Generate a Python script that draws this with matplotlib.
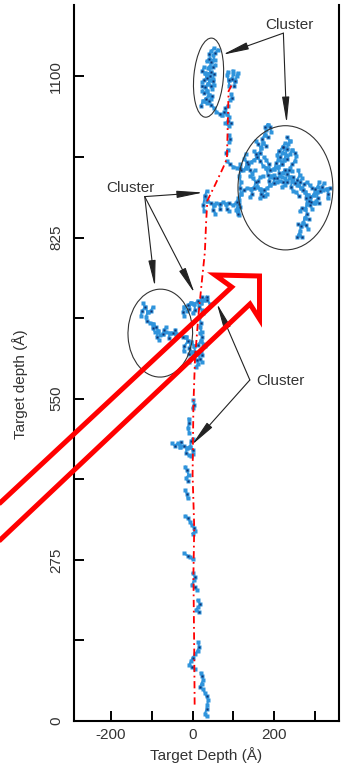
import numpy as np
import matplotlib.pyplot as plt
from matplotlib.patches import Ellipse, Polygon

plt.rcParams['font.family'] = ['Liberation Sans', 'DejaVu Sans']
plt.rcParams['axes.unicode_minus'] = False

# ion track (red dash-dot line)
track_x = [5, 4, 2, 4, 0, 2, 6, 14, 24, 30, 33, 36, 55, 75, 84, 86, 88, 96]
track_y = [28, 120, 250, 330, 420, 540, 620, 690, 760, 800, 850, 888, 915, 945, 960, 1020, 1075, 1086]

# recoil branches, (depth x, depth y)
top_cluster = [
    [(62, 1146), (55, 1140), (50, 1136), (54, 1128), (46, 1124), (42, 1117), (38, 1115), (44, 1108), (36, 1104),
     (30, 1106), (34, 1098), (42, 1094), (38, 1088), (30, 1082), (36, 1076), (40, 1068), (32, 1062), (26, 1058),
     (34, 1054), (46, 1052), (52, 1046), (58, 1040), (66, 1036), (72, 1034)],
    [(48, 1128), (40, 1130), (34, 1126)], [(44, 1108), (52, 1104), (50, 1096)], [(38, 1088), (46, 1084), (48, 1078)],
    [(36, 1076), (28, 1072), (24, 1076)], [(40, 1068), (48, 1066)], [(30, 1106), (24, 1110), (28, 1116)],
    [(26, 1058), (20, 1050)],
    [(42, 1117), (50, 1116), (56, 1120)], [(34, 1098), (28, 1094), (24, 1090)], [(42, 1094), (50, 1092), (52, 1086)],
    [(46, 1124), (40, 1138), (46, 1144), (52, 1148)], [(32, 1062), (40, 1058), (44, 1062)], [(30, 1082), (24, 1084)],
    [(36, 1104), (42, 1100)],
    [(72, 1034), (78, 1040), (84, 1036), (90, 1030), (86, 1024), (80, 1020), (88, 1016), (94, 1020)],
    [(84, 1036), (80, 1046), (86, 1050)],
    [(90, 1084), (88, 1094), (84, 1102), (86, 1108)], [(88, 1094), (96, 1096), (100, 1104), (98, 1110)],
    [(96, 1096), (104, 1092), (108, 1100), (110, 1106)], [(104, 1092), (102, 1084)],
    [(92, 1060), (96, 1064), (94, 1070)], [(88, 1000), (92, 994), (90, 988)], [(86, 975), (82, 970)],
]
big_cluster = [
    [(36, 888), (44, 884), (52, 880), (58, 884), (66, 882), (74, 885), (82, 882), (90, 884), (98, 880), (106, 884),
     (114, 882)],
    [(52, 880), (50, 872), (56, 866)], [(66, 882), (68, 874)], [(82, 882), (84, 874), (90, 870)],
    [(36, 888), (30, 896), (34, 904)], [(30, 896), (26, 880), (28, 870)],
    [(116, 950), (118, 940), (114, 930), (118, 920), (116, 910), (118, 900), (114, 890), (116, 878), (112, 870),
     (114, 864)],
    [(84, 955), (92, 950), (100, 946), (108, 944), (116, 944), (124, 940), (130, 944), (136, 950), (142, 954),
     (150, 958), (158, 962)],
    [(158, 962), (164, 970), (168, 978), (172, 986), (170, 994), (176, 1000), (180, 1008), (178, 1014), (184, 1018)],
    [(168, 978), (160, 984), (156, 990)], [(176, 1000), (184, 996)], [(172, 986), (180, 982)],
    [(158, 962), (166, 956), (172, 948), (180, 944), (190, 940), (200, 942), (210, 946), (218, 950), (224, 958),
     (228, 966), (230, 976), (234, 984), (238, 990)],
    [(224, 958), (232, 960), (238, 968), (244, 974)],
    [(244, 974), (250, 970), (254, 964), (250, 956), (244, 950), (238, 944)],
    [(238, 990), (230, 996)], [(230, 976), (222, 980)],
    [(226, 940), (232, 934), (238, 928), (244, 922), (250, 918), (258, 914), (264, 910), (270, 906), (276, 902),
     (282, 898), (288, 894), (296, 898), (304, 902), (312, 904), (320, 906), (328, 908), (336, 910)],
    [(312, 904), (316, 912), (322, 918)], [(328, 908), (332, 900), (330, 892)], [(264, 910), (262, 920), (268, 926)],
    [(250, 918), (246, 928)],
    [(276, 902), (278, 892), (280, 882), (276, 874), (280, 866), (274, 858), (270, 850), (266, 844), (262, 836),
     (260, 830), (256, 826)],
    [(280, 882), (288, 880), (292, 874)], [(274, 858), (284, 856)], [(266, 844), (258, 848)], [(260, 830), (268, 826)],
    [(118, 900), (126, 906), (134, 910), (142, 908), (150, 910), (158, 912), (166, 908), (174, 906), (182, 910),
     (190, 914), (198, 918), (206, 920), (214, 922), (222, 920), (230, 922)],
    [(142, 908), (146, 900), (140, 894)], [(166, 908), (168, 900), (176, 896), (182, 900)],
    [(198, 918), (200, 926), (194, 930)], [(150, 910), (154, 920), (148, 926), (140, 930)],
    [(112, 892), (108, 886), (110, 878), (106, 872), (110, 866)],
    [(180, 944), (184, 932), (192, 928), (200, 932), (206, 926), (214, 930), (220, 936), (226, 940)],
    [(200, 942), (204, 952), (210, 958), (206, 966), (212, 972)],
    [(190, 940), (186, 950), (180, 958), (174, 962)],
    [(244, 922), (240, 912), (246, 904), (254, 902), (260, 896)],
    [(288, 894), (290, 886), (296, 884), (302, 888), (308, 884)],
    [(130, 944), (132, 954), (126, 960), (130, 968)], [(136, 950), (140, 940), (146, 934), (152, 940)],
    [(208, 946), (212, 936), (218, 928), (226, 926)], [(218, 950), (214, 962), (220, 970), (226, 978)],
    [(256, 914), (256, 924), (262, 932), (258, 940)], [(270, 906), (272, 916), (280, 920), (286, 914), (292, 910)],
    [(296, 898), (300, 908), (306, 912), (310, 920)], [(304, 902), (306, 892), (300, 884)], [(282, 898), (284, 888)],
    [(276, 874), (268, 876), (262, 870)], [(270, 850), (278, 846), (282, 840)], [(190, 914), (186, 922), (190, 930)],
    [(174, 906), (172, 896), (164, 892)], [(158, 912), (160, 922), (166, 928), (172, 930)],
    [(232, 934), (236, 940), (242, 938)], [(238, 928), (232, 920), (226, 914), (218, 912)],
    [(184, 1018), (190, 1014), (192, 1006)], [(164, 970), (156, 968), (150, 972)],
    [(212, 972), (220, 980), (226, 986)],
]
mid_cluster = [
    [(-121, 713), (-116, 706), (-110, 698), (-114, 690), (-112, 682), (-104, 680), (-96, 678), (-90, 672), (-84, 666),
     (-80, 658), (-72, 660), (-64, 664), (-56, 662), (-48, 662), (-40, 660), (-32, 658), (-24, 656), (-16, 655)],
    [(-116, 706), (-124, 700), (-126, 692)], [(-110, 698), (-102, 700), (-98, 706)], [(-96, 678), (-98, 670), (-92, 664)],
    [(-84, 666), (-88, 656), (-82, 650)], [(-56, 662), (-58, 654)],
    [(-72, 660), (-70, 668), (-64, 672)], [(-40, 660), (-42, 668)],
    [(-20, 706), (-12, 710), (-4, 714), (4, 712), (12, 716), (20, 714), (28, 718), (36, 718), (42, 712)],
    [(-4, 714), (-8, 704), (-14, 700)], [(12, 716), (16, 706), (22, 702), (26, 696)], [(28, 718), (34, 724)],
    [(-20, 706), (-24, 698), (-20, 692)], [(4, 712), (6, 702), (0, 696)], [(20, 714), (22, 724)],
    [(-16, 656), (-12, 648), (-4, 646), (4, 640), (12, 642), (20, 648), (26, 644), (30, 640)],
    [(-4, 646), (-8, 636), (-2, 630), (2, 622), (-6, 618), (-10, 612)],
    [(4, 640), (6, 630), (14, 626), (20, 630), (24, 624)], [(2, 622), (10, 616), (14, 610), (8, 604)],
    [(-12, 648), (-20, 640), (-22, 632)], [(14, 626), (18, 618), (24, 612)],
    [(-2, 630), (-10, 626)], [(20, 648), (24, 656), (18, 662)],
    [(16, 690), (20, 680), (18, 672), (22, 664)],
]
low_cluster = [
    [(2, 548), (4, 540), (0, 534)], [(-10, 516), (-8, 508), (-12, 500), (-8, 492)],
    [(-50, 474), (-44, 470), (-36, 474), (-30, 468), (-22, 470), (-14, 466), (-6, 468), (0, 462), (2, 456), (-4, 452)],
    [(-30, 468), (-28, 476)], [(-14, 466), (-16, 458), (-10, 454)], [(-6, 468), (-4, 478), (0, 482)],
    [(-18, 434), (-14, 428), (-10, 420), (-16, 414), (-12, 410)], [(-18, 394), (-14, 388), (-12, 380)],
    [(-18, 350), (-12, 346), (-6, 340), (-2, 334), (4, 330), (6, 324), (0, 320)],
    [(-20, 286), (-12, 282), (-6, 280), (0, 276)],
    [(0, 252), (6, 246), (4, 240), (-2, 232), (6, 228), (10, 224)],
    [(12, 206), (18, 200), (14, 194), (8, 190), (16, 186)],
    [(14, 134), (16, 126), (12, 120), (6, 114), (0, 108), (-4, 102), (-8, 96), (-2, 92), (6, 88)],
    [(20, 82), (24, 76), (26, 70), (22, 64), (18, 58), (26, 54), (30, 48), (34, 42), (38, 36), (36, 28), (34, 20),
     (30, 12), (34, 8)],
]

# cluster outlines: centre x, centre y, width, height, angle
ellipses = [(39, 1098, 72, 136, -8), (227, 910, 232, 212, 0), (-79, 662, 158, 150, 5)]

light = '#2f94dc'
dark = '#10306e'

fig = plt.figure(figsize=(3.47, 7.71), dpi=100)
ax = fig.add_axes([74 / 347, 50 / 771, 265 / 347, 716 / 771])

for branch in top_cluster + big_cluster + mid_cluster + low_cluster:
    b = np.array(branch)
    ax.plot(b[:, 0], b[:, 1], '-', color=light, lw=1.5, marker='s', ms=2.4, mec='none', zorder=2)
    ax.plot(b[1::3, 0], b[1::3, 1], 's', color=dark, ms=1.8, mec='none', zorder=3)

ax.plot(track_x, track_y, color='red', lw=1.3, ls=(0, (4, 2, 1, 2)), zorder=4)

for cx, cy, w, h, ang in ellipses:
    ax.add_patch(Ellipse((cx, cy), w, h, angle=ang, fill=False, ec='#333333', lw=0.8, zorder=5))

arr = dict(arrowstyle='-|>,head_length=1.6,head_width=0.22', color='#222222', lw=0.8, mutation_scale=10,
           shrinkA=0, shrinkB=0)
tkw = dict(fontsize=11, color='#333333', ha='center', va='center', zorder=6)
ax.text(238, 1188, 'Cluster', **tkw)
ax.annotate('', xy=(73, 1137), xytext=(222, 1174), arrowprops=arr)
ax.annotate('', xy=(230, 1020), xytext=(222, 1174), arrowprops=arr)
ax.text(-153, 909, 'Cluster', **tkw)
ax.annotate('', xy=(26, 902), xytext=(-117, 895), arrowprops=arr)
ax.annotate('', xy=(-92, 741), xytext=(-117, 895), arrowprops=arr)
ax.annotate('', xy=(5, 730), xytext=(-117, 895), arrowprops=arr)
ax.text(216, 580, 'Cluster', **tkw)
ax.annotate('', xy=(59, 713), xytext=(140, 582), arrowprops=arr)
ax.annotate('', xy=(-2, 471), xytext=(140, 582), arrowprops=arr)

ax.set_xlim(-290, 358)
ax.set_ylim(0, 1222)
ax.set_xticks([-200, 0, 200])
ax.set_xticks([-100, 100, 300], minor=True)
ax.set_yticks([0, 275, 550, 825, 1100])
ax.set_yticks([137.5, 412.5, 687.5, 962.5], minor=True)
ax.set_yticklabels(['0', '275', '550', '825', '1100'], rotation=90, va='center')
ax.tick_params(which='both', direction='in', length=7, width=1.4, color='black', labelsize=11,
               labelcolor='#333333')
ax.tick_params(axis='y', pad=8)
ax.tick_params(axis='x', pad=5)
ax.spines['top'].set_visible(False)
for s in ['left', 'right', 'bottom']:
    ax.spines[s].set_linewidth(1.5)
ax.set_xlabel('Target Depth (Å)', fontsize=11, color='#333333', labelpad=4)
ax.set_ylabel('Target depth (Å)', fontsize=11, color='#333333')
ax.yaxis.set_label_coords(-0.175, 0.47)

# hollow red arrow drawn over the figure (pixel positions)
arrow_px = [(-20, 521.6), (231.7, 287), (215, 275), (259.5, 276), (259.5, 319), (250, 304), (-20, 559)]
arrow_fig = [(px / 347, 1 - py / 771) for px, py in arrow_px]
fig.patches.append(Polygon(arrow_fig, closed=True, fill=False, ec='#ff0000', lw=3.6, joinstyle='miter',
                           transform=fig.transFigure, zorder=10))

fig.savefig('out.png', dpi=100)
